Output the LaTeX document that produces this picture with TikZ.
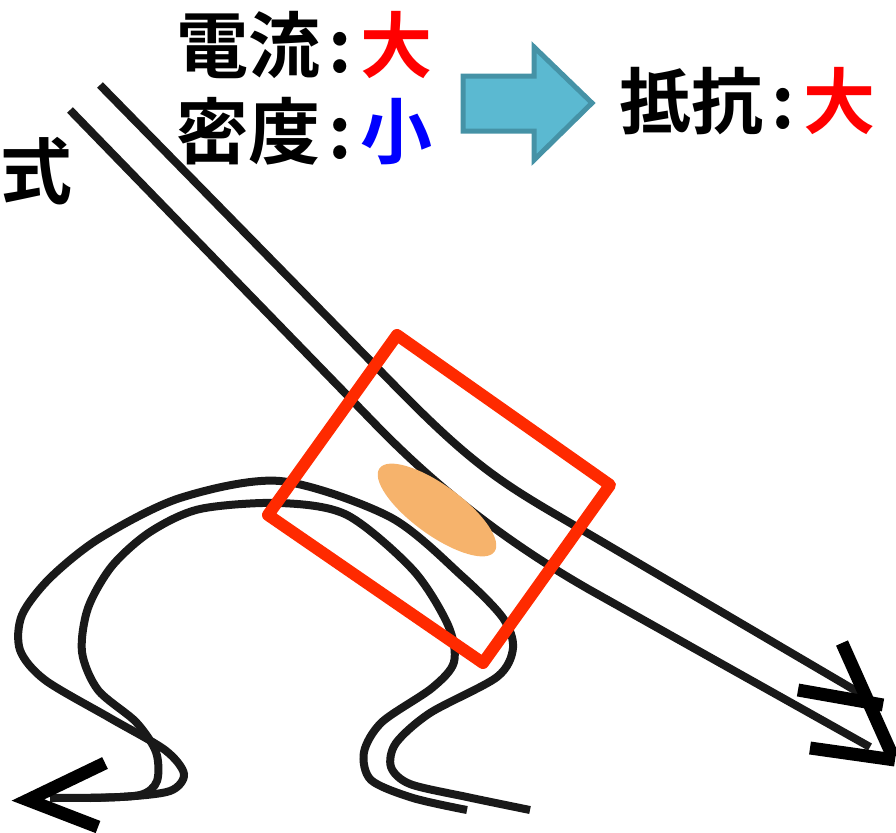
\documentclass[tikz,border=0pt]{standalone}
\usepackage{fontspec}
\usepackage{xcolor}
\usepackage{tikz}
\newfontfamily\jpfont{Noto Sans CJK JP Bold}
\definecolor{boxred}{HTML}{FF2A00}
\definecolor{spot}{HTML}{F6B36C}
\definecolor{arrfill}{HTML}{5BB9D1}
\definecolor{arrline}{HTML}{4592A6}
\tikzset{
  jp/.style={font=\jpfont\fontsize{41}{49}\selectfont, inner sep=0pt, anchor=base west},
  wire/.style={line width=0.16cm, black!90},
  tipmark/.style={line width=0.26cm, black},
  redbox/.style={line width=0.24cm, draw=boxred, line join=round},
  blockarrow/.style={line width=0.1cm, draw=arrline, fill=arrfill},
}
\newcommand{\sep}{\makebox[0.56em]{:}}

\begin{document}
\begin{tikzpicture}[x=0.02cm, y=-0.02cm]
    \useasboundingbox (0,0) rectangle (896,832);

    % labels
    \node[jp] (current) at (176,72) {電流\sep\textcolor{red}{大}};
    \node[jp] (density) at (176,158) {密度\sep\textcolor{blue}{小}};
    \node[jp] (resist)  at (619,128) {抵抗\sep\textcolor{red}{大}};
    \node[jp] (shiki)   at (0,198) {式};

    % block arrow between the labels
    \draw[blockarrow] (463,76) -- (534,76) -- (534,47) -- (592,103)
        -- (534,160) -- (534,131) -- (463,131) -- cycle;

    % straight pair, bending to the right
    \draw[wire] (100,85) -- (400,391) .. controls (470,462) and (500,482) .. (560,517) -- (863,695);
    \draw[wire] (70,110) -- (380,429) .. controls (450,500) and (520,550) .. (590,590) -- (870,747);

    % arched pair
    \draw[wire] plot[smooth, tension=0.5] coordinates {
      (50,798) (120,797) (170,791) (184,774) (165,750) (110,718) (45,680) (20,650)
      (22,615) (50,578) (100,538) (180,498) (280,481) (390,517) (463,577) (503,618)
      (513,648) (497,677) (430,713) (396,743) (391,767) (410,784) (467,797) (530,810)};
    \draw[wire] plot[smooth, tension=0.5] coordinates {
      (90,798) (140,795) (157,781) (156,752) (136,722) (98,690) (82,652) (88,608)
      (112,566) (150,532) (200,509) (280,503) (347,515) (413,570) (448,625) (454,662)
      (432,688) (382,722) (364,752) (371,780) (413,798) (467,810)};

    % arrow heads at the ends
    \draw[tipmark, line join=miter] (105,763) -- (28,800) -- (98,827);
    \draw[tipmark] (842,643) -- (893,757);
    \draw[tipmark] (798,690) -- (883,705);
    \draw[tipmark] (810,748) -- (895,760);

    % spot and frame
    \fill[spot, rotate around={-36:(437,510)}] (437,510) ellipse [x radius=71, y radius=25];
    \draw[redbox] (397,335) -- (610,485) -- (483,663) -- (268,515) -- cycle;
\end{tikzpicture}
\end{document}
